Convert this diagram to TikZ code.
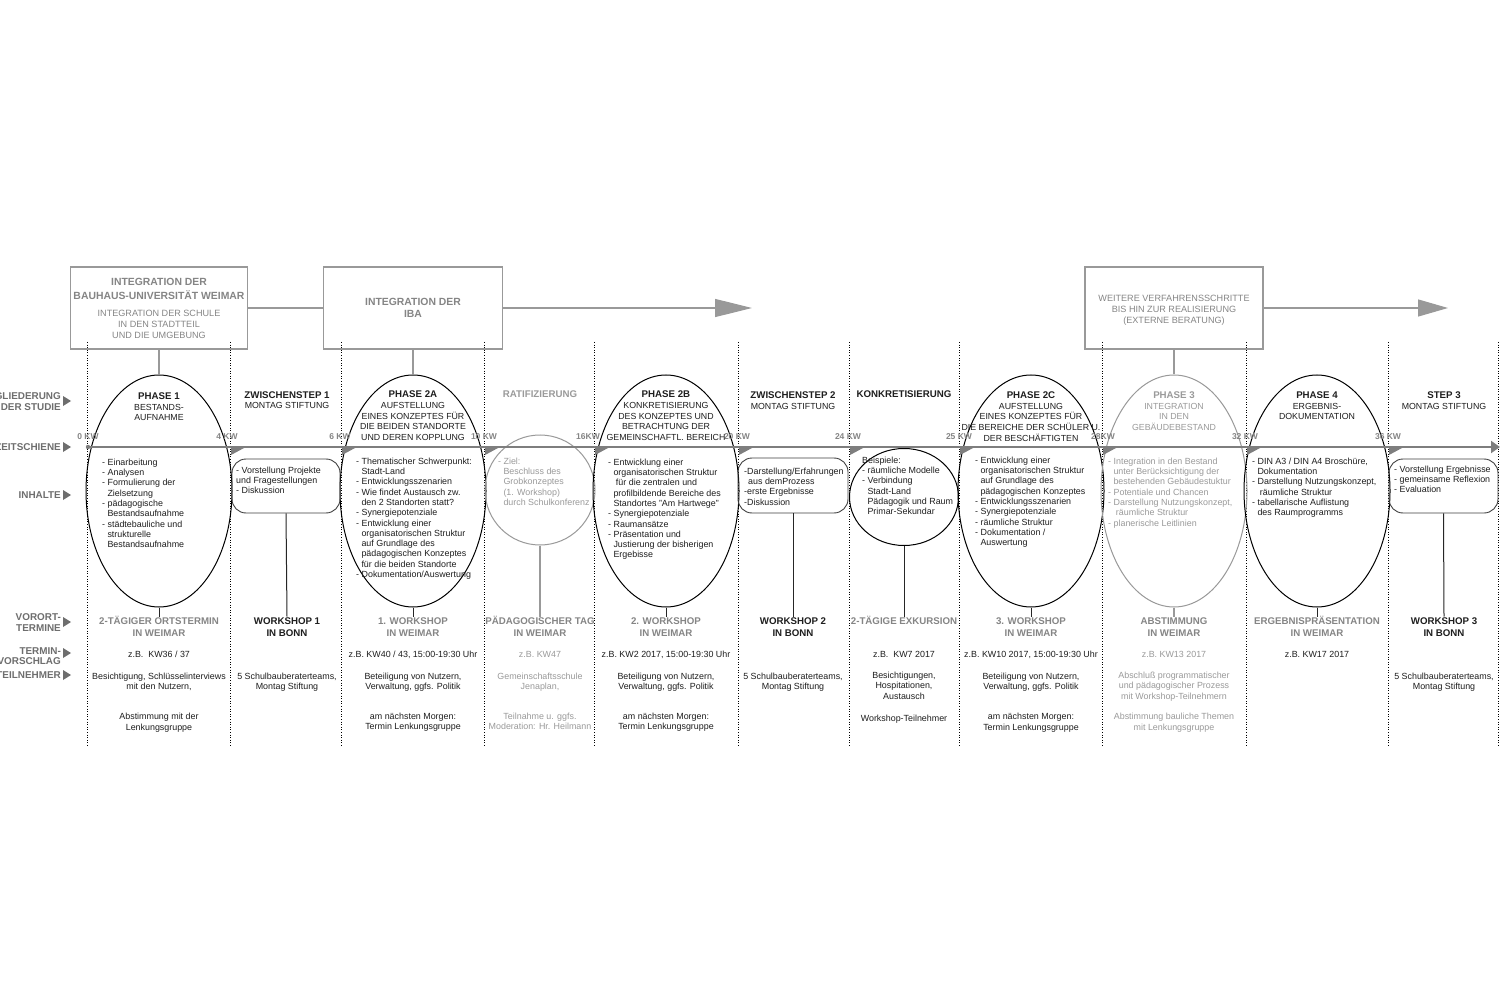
\documentclass[tikz,border=0pt]{standalone}
\usepackage{fontspec}
\setmainfont{Liberation Sans}
\usetikzlibrary{shapes.geometric,arrows.meta}
\definecolor{ink}{HTML}{1E1E1E}
\definecolor{lg}{HTML}{9A9A9A}
\definecolor{mg}{HTML}{858585}
\definecolor{rlc}{HTML}{6E6E6E}
\definecolor{lnc}{HTML}{999999}
\definecolor{tlc}{HTML}{7E7E7E}
\newcommand\myind{\hspace*{5.3pt}}
\newcommand\mybf[1]{{\fontsize{9.7}{10.6}\selectfont\bfseries #1}}
\begin{document}
\begin{tikzpicture}[x=1pt,y=-1pt,
 ct/.style={inner sep=0pt, anchor=north west, align=left, font=\fontsize{8.9}{10.3}\selectfont, text=ink},
 ctg/.style={ct, text=lg},
 ctr/.style={inner sep=0pt, anchor=north, align=center, font=\fontsize{8.9}{10.4}\selectfont, text=ink},
 ctrg/.style={ctr, text=lg},
 hd/.style={inner sep=0pt, anchor=north, align=center, font=\fontsize{8.8}{10.6}\selectfont, text=ink},
 hdg/.style={hd, text=lg},
 vo/.style={inner sep=0pt, anchor=north, align=center, font=\fontsize{9.7}{11.4}\selectfont\bfseries, text=ink},
 vog/.style={vo, text=mg},
 kw/.style={inner sep=0pt, anchor=base, font=\fontsize{8.5}{10}\selectfont\bfseries, text=mg},
 rl/.style={inner sep=0pt, anchor=north east, align=right, font=\fontsize{9.9}{10.6}\selectfont\bfseries, text=rlc},
 bxt/.style={inner sep=0pt, anchor=north, align=center, font=\fontsize{10.4}{12}\selectfont\bfseries, text=mg},
 bxs/.style={inner sep=0pt, anchor=north, align=center, font=\fontsize{9.1}{11}\selectfont, text=mg},
 ph/.style={ellipse, draw=black, line width=1pt, minimum width=146pt, minimum height=232pt, inner sep=0pt},
 phg/.style={ph, draw=lnc},
 rb/.style={rectangle, rounded corners=14pt, draw=black!75, line width=0.9pt, inner sep=0pt},
 tb/.style={rectangle, draw=lnc, line width=1.2pt, inner sep=0pt},
 dl/.style={black, line width=0.8pt, dash pattern=on 0.8pt off 1.8pt},
 con/.style={black!85, line width=1pt},
 cong/.style={lnc, line width=1.2pt},
 mk/.style={fill=tlc, draw=none}
]
\fill[white] (0,0) rectangle (1500,1000);
\clip (0,0) rectangle (1500,1000);

% dotted column lines
\foreach \x in {87,230,341,484,594,738,849,959,1102,1246,1388,1498}
  \draw[dl] (\x,342) -- (\x,747);

% top boxes
\node[tb, minimum width=177pt, minimum height=82pt] (b1) at (159,308) {};
\node[tb, minimum width=179pt, minimum height=82pt] (b2) at (413,308) {};
\node[tb, minimum width=178pt, minimum height=82pt] (b3) at (1174,308) {};
\node[bxt] (b1t) at (159,277) {\strut INTEGRATION DER\\BAUHAUS-UNIVERSITÄT WEIMAR};
\node[bxs] (b1s) at (159,308.8) {\strut INTEGRATION DER SCHULE\\IN DEN STADTTEIL\\UND DIE UMGEBUNG};
\node[bxt] (b2t) at (413,297.3) {\strut INTEGRATION DER\\IBA};
\node[bxs] (b3s) at (1174,293.8) {\strut WEITERE VERFAHRENSSCHRITTE\\BIS HIN ZUR REALISIERUNG\\(EXTERNE BERATUNG)};
\coordinate (a1) at (752,308);
\coordinate (a2) at (1448,308);
\draw[cong] (b1.east) -- (b2.west);
\draw[cong, -{Triangle[length=37pt,width=18pt]}] (b2.east) -- (a1);
\draw[cong, -{Triangle[length=30pt,width=17pt]}] (b3.east) -- (a2);

% phases
\node[ph] (p1) at (159,491) {};
\node[ph] (p2a) at (413,491) {};
\node[circle, draw=lnc, line width=1pt, minimum size=110pt, inner sep=0pt] (rat) at (540,490) {};
\node[ph] (p2b) at (666,491) {};
\node[ellipse, draw=black, line width=1pt, minimum width=109pt, minimum height=97pt, inner sep=0pt] (kon) at (904,497) {};
\node[ph] (p2c) at (1031,491) {};
\node[phg] (p3) at (1174,491) {};
\node[ph] (p4) at (1317,491) {};
\node[rb, minimum width=108pt, minimum height=54pt] (z1) at (286,486) {};
\node[rb, minimum width=110pt, minimum height=55pt] (z2) at (793,485.5) {};
\node[rb, minimum width=109pt, minimum height=54pt] (s3) at (1443.5,486) {};

\draw[cong] (b1.south) -- (p1.north);
\draw[cong] (b2.south) -- (p2a.north);
\draw[cong] (b3.south) -- (p3.north);

% timeline
\coordinate (tl0) at (88,447);
\coordinate (tl1) at (1500,447);
\draw[tlc, line width=2pt, -{Triangle[length=9pt,width=12pt]}] (tl0) -- (tl1);
\fill[tlc] (tl0) circle (2.2pt);
\foreach \x in {230,341,484,594,738,849,959,1102,1246,1388}
  \fill[mk] (\x+1,448) -- (\x+14,448) -- (\x+1,455) -- cycle;

% KW labels
\node[kw] (k0) at (88,439) {0 KW};
\node[kw] (k4) at (227,439) {4 KW};
\node[kw] (k6) at (340,439) {6 KW};
\node[kw] (k10) at (484,439) {10 KW};
\node[kw] (k16) at (588,439) {16KW};
\node[kw] (k20) at (737,439) {20 KW};
\node[kw] (k24) at (848,439) {24 KW};
\node[kw] (k25) at (959,439) {25 KW};
\node[kw] (k28) at (1103,439) {28KW};
\node[kw] (k32) at (1245,439) {32 KW};
\node[kw] (k36) at (1388,439) {36 KW};

% row labels
\node[rl] (r1) at (61,392) {\strut GLIEDERUNG\\DER STUDIE};
\node[rl] (r2) at (61,443) {\strut ZEITSCHIENE};
\node[rl] (r3) at (61,491) {\strut INHALTE};
\node[rl] (r4) at (61,613) {\strut VORORT-\\TERMINE};
\node[rl] (r5) at (61,646.5) {\strut TERMIN-\\VORSCHLAG};
\node[rl] (r6) at (61,671) {\strut TEILNEHMER};
\foreach \c in {401,447,495,622,653,675}
  \fill[rlc] (63,\c-5) -- (71,\c) -- (63,\c+5) -- cycle;

% headings
\node[hd] (h1) at (159,392) {\strut\mybf{PHASE 1}\\BESTANDS-\\AUFNAHME};
\node[hd] (hz1) at (287,390.5) {\strut\mybf{ZWISCHENSTEP 1}\\MONTAG STIFTUNG};
\node[hd] (h2a) at (413,390.3) {\strut\mybf{PHASE 2A}\\AUFSTELLUNG\\EINES KONZEPTES FÜR\\DIE BEIDEN STANDORTE\\UND DEREN KOPPLUNG};
\node[hdg] (hr) at (540,390.3) {\strut\mybf{RATIFIZIERUNG}};
\node[hd] (h2b) at (666,390.3) {\strut\mybf{PHASE 2B}\\KONKRETISIERUNG\\DES KONZEPTES UND\\BETRACHTUNG DER\\GEMEINSCHAFTL. BEREICH};
\node[hd] (hz2) at (793,391) {\strut\mybf{ZWISCHENSTEP 2}\\MONTAG STIFTUNG};
\node[hd] (hk) at (904,390.3) {\strut\mybf{KONKRETISIERUNG}};
\node[hd] (h2c) at (1031,391) {\strut\mybf{PHASE 2C}\\AUFSTELLUNG\\EINES KONZEPTES FÜR\\DIE BEREICHE DER SCHÜLER U.\\DER BESCHÄFTIGTEN};
\node[hdg] (h3) at (1174,391) {\strut\mybf{PHASE 3}\\INTEGRATION\\IN DEN\\GEBÄUDEBESTAND};
\node[hd] (h4) at (1317,391) {\strut\mybf{PHASE 4}\\ERGEBNIS-\\DOKUMENTATION};
\node[hd] (hs3) at (1444,391) {\strut\mybf{STEP 3}\\MONTAG STIFTUNG};

% contents
\node[ct] (c1) at (102,457.8) {\strut- Einarbeitung\\- Analysen\\- Formulierung der\\\myind Zielsetzung\\- pädagogische\\\myind Bestandsaufnahme\\- städtebauliche und\\\myind strukturelle\\\myind Bestandsaufnahme};
\node[ct] (cz1) at (236,465.8) {\strut- Vorstellung Projekte\\und Fragestellungen\\- Diskussion};
\node[ct] (c2a) at (356,456.8) {\strut- Thematischer Schwerpunkt:\\\myind Stadt-Land\\- Entwicklungsszenarien\\- Wie findet Austausch zw.\\\myind den 2 Standorten statt?\\- Synergiepotenziale\\- Entwicklung einer\\\myind organisatorischen Struktur\\\myind auf Grundlage des\\\myind pädagogischen Konzeptes\\\myind für die beiden Standorte\\- Dokumentation/Auswertung};
\node[ctg] (cr) at (498,456.8) {\strut- Ziel:\\\myind Beschluss des\\\myind Grobkonzeptes\\\myind (1. Workshop)\\\myind durch Schulkonferenz};
\node[ct] (c2b) at (608,457.8) {\strut- Entwicklung einer\\\myind organisatorischen Struktur\\\myind\ für die zentralen und\\\myind profilbildende Bereiche des\\\myind Standortes "Am Hartwege"\\- Synergiepotenziale\\- Raumansätze\\- Präsentation und\\\myind Justierung der bisherigen\\\myind Ergebisse};
\node[ct] (cz2) at (744,466.8) {\strut-Darstellung/Erfahrungen\\\hspace*{4pt}aus demProzess\\-erste Ergebnisse\\-Diskussion};
\node[ct] (ck) at (862,455.8) {\strut Beispiele:\\- räumliche Modelle\\- Verbindung\\\myind Stadt-Land\\\myind Pädagogik und Raum\\\myind Primar-Sekundar};
\node[ct] (c2c) at (975,455.8) {\strut- Entwicklung einer\\\myind organisatorischen Struktur\\\myind auf Grundlage des\\\myind pädagogischen Konzeptes\\- Entwicklungsszenarien\\- Synergiepotenziale\\- räumliche Struktur\\- Dokumentation /\\\myind Auswertung};
\node[ctg] (c3) at (1108,456.8) {\strut- Integration in den Bestand\\\myind unter Berücksichtigung der\\\myind bestehenden Gebäudestuktur\\- Potentiale und Chancen\\- Darstellung Nutzungskonzept,\\\myind\ räumliche Struktur\\- planerische Leitlinien};
\node[ct] (c4) at (1252,456.8) {\strut- DIN A3 / DIN A4 Broschüre,\\\myind Dokumentation\\- Darstellung Nutzungskonzept,\\\myind\ räumliche Struktur\\- tabellarische Auflistung\\\myind des Raumprogramms};
\node[ct] (cs3) at (1394,464.8) {\strut- Vorstellung Ergebnisse\\- gemeinsame Reflexion\\- Evaluation};

% vor-ort termine
\node[vog] (v1) at (159,616.5) {\strut 2-TÄGIGER ORTSTERMIN\\IN WEIMAR};
\node[vo] (w1) at (287,616.5) {\strut WORKSHOP 1\\IN BONN};
\node[vog] (v2) at (413,616.5) {\strut 1. WORKSHOP\\IN WEIMAR};
\node[vog] (v3) at (540,616.5) {\strut PÄDAGOGISCHER TAG\\IN WEIMAR};
\node[vog] (v4) at (666,616.5) {\strut 2. WORKSHOP\\IN WEIMAR};
\node[vo] (w2) at (793,616.5) {\strut WORKSHOP 2\\IN BONN};
\node[vog] (v5) at (904,616.5) {\strut 2-TÄGIGE EXKURSION};
\node[vog] (v6) at (1031,616.5) {\strut 3. WORKSHOP\\IN WEIMAR};
\node[vog] (v7) at (1174,616.5) {\strut ABSTIMMUNG\\IN WEIMAR};
\node[vog] (v8) at (1317,616.5) {\strut ERGEBNISPRÄSENTATION\\IN WEIMAR};
\node[vo] (w3) at (1444,616.5) {\strut WORKSHOP 3\\IN BONN};

\draw[con] (p1.south) -- (v1.north);
\draw[con] (z1.south) -- (w1.north);
\draw[con] (p2a.south) -- (v2.north);
\draw[cong] (rat.south) -- (v3.north);
\draw[con] (p2b.south) -- (v4.north);
\draw[con] (z2.south) -- (w2.north);
\draw[con] (kon.south) -- (v5.north);
\draw[con] (p2c.south) -- (v6.north);
\draw[cong] (p3.south) -- (v7.north);
\draw[con] (p4.south) -- (v8.north);
\draw[con] (s3.south) -- (w3.north);

% termin-vorschlag
\node[ctr] (t1) at (159,649.8) {\strut z.B.\ \ KW36 / 37};
\node[ctr] (t2) at (413,649.8) {\strut z.B. KW40 / 43, 15:00-19:30 Uhr};
\node[ctrg] (t3) at (540,649.8) {\strut z.B. KW47};
\node[ctr] (t4) at (666,649.8) {\strut z.B. KW2 2017, 15:00-19:30 Uhr};
\node[ctr] (t5) at (904,649.8) {\strut z.B.\ \ KW7 2017};
\node[ctr] (t6) at (1031,649.8) {\strut z.B. KW10 2017, 15:00-19:30 Uhr};
\node[ctrg] (t7) at (1174,649.8) {\strut z.B. KW13 2017};
\node[ctr] (t8) at (1317,649.8) {\strut z.B. KW17 2017};

% teilnehmer
\node[ctr] (n1a) at (159,671.8) {\strut Besichtigung, Schlüsselinterviews\\mit den Nutzern,};
\node[ctr] (n1b) at (159,712.3) {\strut Abstimmung mit der\\Lenkungsgruppe};
\node[ctr] (nz1) at (287,671.8) {\strut 5 Schulbauberaterteams,\\Montag Stiftung};
\node[ctr] (n2a) at (413,671.8) {\strut Beteiligung von Nutzern,\\Verwaltung, ggfs. Politik};
\node[ctr] (n2b) at (413,712) {\strut am nächsten Morgen:\\Termin Lenkungsgruppe};
\node[ctrg] (nr1) at (540,671.8) {\strut Gemeinschaftsschule\\Jenaplan,};
\node[ctrg] (nr2) at (540,712) {\strut Teilnahme u. ggfs.\\Moderation: Hr. Heilmann};
\node[ctr] (n3a) at (666,671.8) {\strut Beteiligung von Nutzern,\\Verwaltung, ggfs. Politik};
\node[ctr] (n3b) at (666,712) {\strut am nächsten Morgen:\\Termin Lenkungsgruppe};
\node[ctr] (nz2) at (793,671.8) {\strut 5 Schulbauberaterteams,\\Montag Stiftung};
\node[ctr] (nk1) at (904,670.8) {\strut Besichtigungen,\\Hospitationen,\\Austausch};
\node[ctr] (nk2) at (904,714) {\strut Workshop-Teilnehmer};
\node[ctr] (n4a) at (1031,671.8) {\strut Beteiligung von Nutzern,\\Verwaltung, ggfs. Politik};
\node[ctr] (n4b) at (1031,712.5) {\strut am nächsten Morgen:\\Termin Lenkungsgruppe};
\node[ctrg] (np3a) at (1174,670.8) {\strut Abschluß programmatischer\\und pädagogischer Prozess\\mit Workshop-Teilnehmern};
\node[ctrg] (np3b) at (1174,712.5) {\strut Abstimmung bauliche Themen\\mit Lenkungsgruppe};
\node[ctr] (ns3) at (1444,671.8) {\strut 5 Schulbauberaterteams,\\Montag Stiftung};
\end{tikzpicture}
\end{document}
